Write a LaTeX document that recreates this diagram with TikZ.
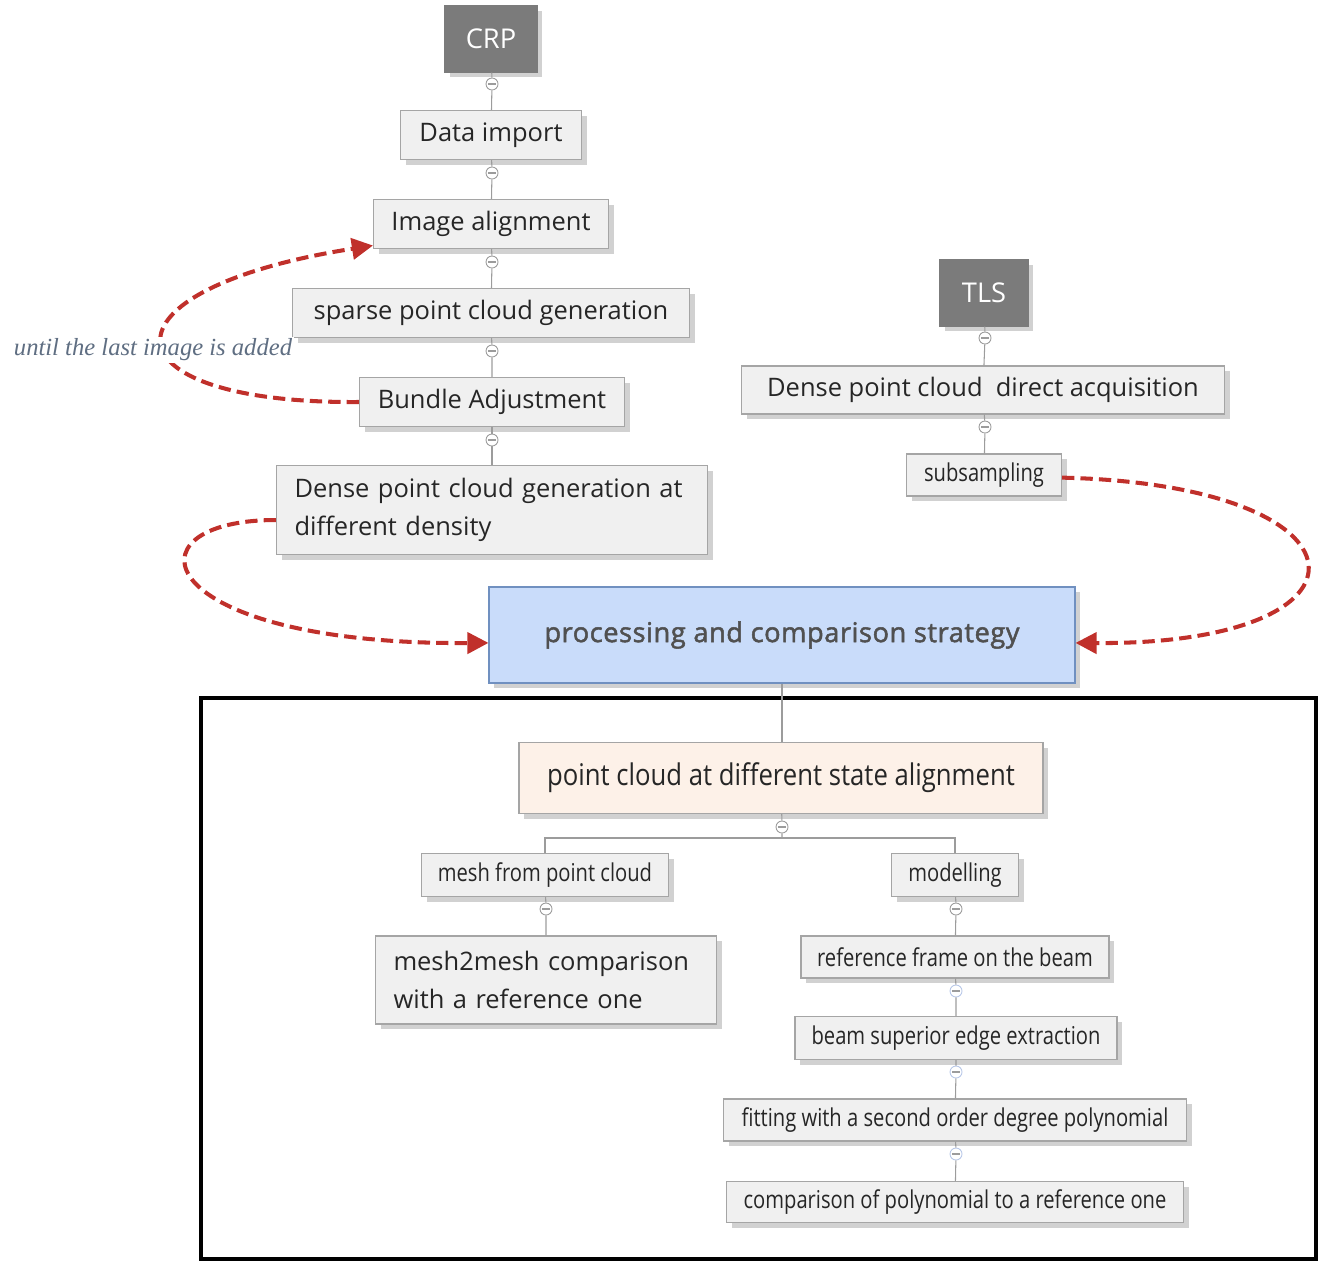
\documentclass[tikz,border=0pt]{standalone}
\usepackage{fontspec}
\setmainfont{Open Sans}
\newfontfamily\narrowfont[FakeStretch=0.82]{Open Sans}
\newfontfamily\stagefont[FakeStretch=0.86]{Open Sans}
\newfontfamily\hubfont[FakeBold=1.8,LetterSpace=2]{Open Sans}
\newfontfamily\notefont{Liberation Serif}
\usetikzlibrary{calc}
\usetikzlibrary{arrows.meta}
\usetikzlibrary{shadows}
\definecolor{boxfill}{HTML}{F0F0F0}
\definecolor{boxline}{HTML}{A5A5A5}
\definecolor{srcfill}{HTML}{7B7B7B}
\definecolor{hubfill}{HTML}{C9DCFA}
\definecolor{hubline}{HTML}{7090C0}
\definecolor{hubtext}{HTML}{505050}
\definecolor{stagefill}{HTML}{FDF1E8}
\definecolor{loopred}{HTML}{C0302B}
\definecolor{linkgray}{HTML}{9C9C9C}
\definecolor{knobblue}{HTML}{B8C8E8}
\definecolor{notecol}{HTML}{5F6E82}
\definecolor{inktext}{HTML}{262626}

\tikzset{
  softshadow/.style={drop shadow={shadow xshift=3pt,shadow yshift=-3pt,opacity=0.18,fill=black}},
  task/.style 2 args={draw=boxline, fill=boxfill, line width=0.6pt, inner sep=0pt,
    text=inktext, minimum width=#1*0.02cm, minimum height=#2*0.02cm, softshadow},
  narrowtask/.style 2 args={task={#1}{#2}, font=\narrowfont\fontsize{14}{17}\selectfont},
  source/.style 2 args={task={#1}{#2}, draw=srcfill, fill=srcfill, text=white,
    font=\fontsize{15.5}{18}\selectfont},
  knob/.style={circle, draw=linkgray, fill=white, line width=0.5pt, inner sep=0pt,
    minimum size=12*0.02cm,
    path picture={\draw[linkgray, line width=0.8pt]
      ([xshift=-2pt]path picture bounding box.center) -- ([xshift=2pt]path picture bounding box.center);}},
  blueknob/.style={knob, draw=knobblue},
  link/.style={draw=linkgray, line width=0.6pt},
  loop/.style={draw=loopred, line width=2.3pt, dash pattern=on 7pt off 3.5pt,
    -{Triangle[length=12pt,width=12pt]}}
}

\begin{document}
\begin{tikzpicture}[x=0.02cm, y=-0.02cm, font=\fontsize{14.5}{21.5}\selectfont]
  \useasboundingbox (0,0) rectangle (1318,1261);

  % photogrammetry branch
  \node[source={92}{66}] (crp) at (491,39) {CRP};
  \node[task={181}{49}] (import) at (491,135) {Data import};
  \node[task={235}{49}] (align) at (491,224) {Image alignment};
  \node[task={397}{49}] (sparse) at (491,313) {sparse point cloud generation};
  \node[task={265}{49}] (bundle) at (492,402) {Bundle Adjustment};
  \node[task={431}{89}, text width=395*0.02cm, align=left] (dense) at (492,510)
    {Dense point cloud generation at\\different density};
  \node[knob] (k1) at (492,84) {};
  \node[knob] (k2) at (492,173) {};
  \node[knob] (k3) at (492,262) {};
  \node[knob] (k4) at (492,351) {};
  \node[knob] (k5) at (492,440) {};
  \draw[link] (crp) -- (k1) -- (import);
  \draw[link] (import) -- (k2) -- (align);
  \draw[link] (align) -- (k3) -- (sparse);
  \draw[link] (sparse) -- (k4) -- (bundle);
  \draw[link] (bundle) -- (k5) -- (dense);

  % laser scanner branch
  \node[source={88}{66}] (tls) at (984,293) {TLS};
  \node[task={483}{48}] (direct) at (983,390) {Dense point cloud~ direct acquisition};
  \node[narrowtask={155}{42}] (sub) at (984,475) {subsampling};
  \node[knob] (k6) at (985,338) {};
  \node[knob] (k7) at (985,427) {};
  \draw[link] (tls) -- (k6) -- (direct);
  \draw[link] (direct) -- (k7) -- (sub);

  % common strategy
  \node[task={586}{96}, draw=hubline, fill=hubfill, text=hubtext,
    font=\hubfont\fontsize{15.5}{18}\selectfont] (hub) at (782,635) {processing and comparison strategy};
  \draw[black, line width=2.4pt] (201,698) rectangle (1316,1259);
  \node[task={524}{71}, fill=stagefill, font=\stagefont\fontsize{17}{20}\selectfont] (stage) at (781,778)
    {point cloud at different state alignment};
  \draw[link] (hub.south) -- (hub.south |- stage.north);

  \node[narrowtask={247}{43}] (mesh) at (545,875) {mesh from point cloud};
  \node[narrowtask={127}{43}] (model) at (955,875) {modelling};
  \node[task={341}{88}, text width=305*0.02cm, align=left] (m2m) at (546,980)
    {mesh2mesh comparison\\with a reference one};
  \node[narrowtask={308}{42}] (frame) at (955,957) {reference frame on the beam};
  \node[narrowtask={322}{43}] (edge) at (956,1038) {beam superior edge extraction};
  \node[narrowtask={463}{42}] (fit) at (955,1120) {fitting with a second order degree polynomial};
  \node[narrowtask={457}{41}] (poly) at (955,1202) {comparison of polynomial to a reference one};
  \node[knob] (k8) at (782,827) {};
  \node[knob] (k9) at (546,909) {};
  \node[knob] (k10) at (956,909) {};
  \node[blueknob] (k11) at (956,991) {};
  \node[blueknob] (k12) at (956,1072) {};
  \node[blueknob] (k13) at (956,1154) {};
  \coordinate (fork) at (782,838);
  \draw[link] (stage) -- (k8) -- (fork);
  \draw[link] (fork) -| (mesh.north);
  \draw[link] (fork) -| (model.north);
  \draw[link] (mesh) -- (k9) -- (m2m);
  \draw[link] (model) -- (k10) -- (frame);
  \draw[link] (frame) -- (k11) -- (edge);
  \draw[link] (edge) -- (k12) -- (fit);
  \draw[link] (fit) -- (k13) -- (poly);

  % dashed loops
  \draw[loop] (bundle.west) .. controls (100,404) and (90,290) .. ([yshift=2pt]align.south west);
  \node[font=\notefont\itshape\fontsize{14}{17}\selectfont, text=notecol, fill=white, inner sep=1pt]
    (note) at (153,350) {until the last image is added};
  \draw[loop] ([yshift=-5.7pt]dense.west) .. controls (120,520) and (150,645) .. ([yshift=-4.5pt]hub.west);
  \draw[loop] ([yshift=-1.5pt]sub.east) .. controls (1380,485) and (1390,645) .. ([yshift=-4.5pt]hub.east);
\end{tikzpicture}
\end{document}
